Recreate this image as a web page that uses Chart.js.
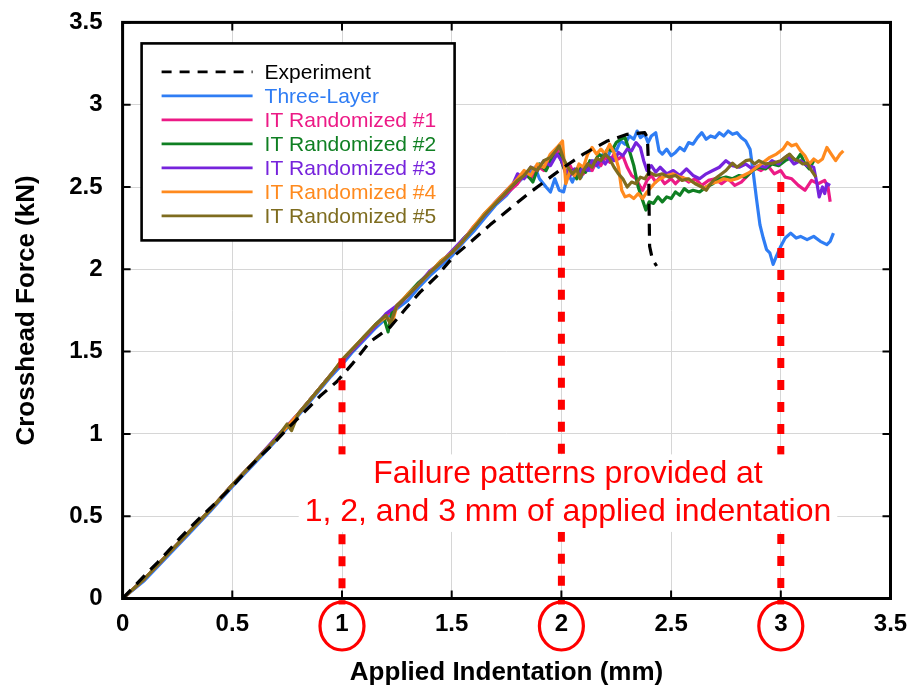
<!DOCTYPE html>
<html>
<head>
<meta charset="utf-8">
<script src="https://cdn.jsdelivr.net/npm/chart.js@4.4.1/dist/chart.umd.min.js"></script>
<style>
  html, body { margin: 0; padding: 0; background: #ffffff; }
  #wrap { width: 912px; height: 690px; }
</style>
</head>
<body>
<div id="wrap"><canvas id="chart" width="912" height="690"></canvas></div>
<script>
// Crosshead force (kN) against applied indentation (mm)

const seriesNames = ['Experiment', 'Three-Layer', 'IT Randomized #1', 'IT Randomized #2',
                     'IT Randomized #3', 'IT Randomized #4', 'IT Randomized #5'];
const seriesColors = ['#000000', '#2F7DF4', '#EC1A86', '#0F7F22', '#7623DC', '#FF8A1E', '#7E6C1F'];

const xTickValues = [0, 0.5, 1, 1.5, 2, 2.5, 3, 3.5];
const xTickLabels = ['0', '0.5', '1', '1.5', '2', '2.5', '3', '3.5'];
const yTickValues = [0, 0.5, 1, 1.5, 2, 2.5, 3, 3.5];
const yTickLabels = ['0', '0.5', '1', '1.5', '2', '2.5', '3', '3.5'];

// indentations at which failure patterns are shown, and the force where each guide stops
const markIndent = [1, 2, 3];
const markForce = [1.46, 2.41, 2.53];
const noteLines = ['Failure patterns provided at', '1, 2, and 3 mm of applied indentation'];

const experiment = [[0,0],[0.05,0.07],[0.103,0.143],[0.16,0.22],[0.216,0.30],[0.26,0.365],[0.307,0.43],
  [0.36,0.50],[0.4,0.55],[0.45,0.615],[0.5,0.68],[0.573,0.79],[0.62,0.855],[0.68,0.93],[0.75,1.03],
  [0.83,1.135],[0.9,1.23],[0.976,1.317],[1.05,1.43],[1.128,1.56],[1.17,1.60],[1.22,1.65],[1.29,1.76],
  [1.355,1.86],[1.43,1.955],[1.51,2.08],[1.59,2.17],[1.675,2.27],[1.766,2.37],[1.85,2.46],[1.93,2.54],
  [2.0,2.61],[2.1,2.70],[2.21,2.78],[2.30,2.82],[2.38,2.83],[2.392,2.80],[2.398,2.60],[2.40,2.34],
  [2.402,2.14],[2.415,2.06],[2.434,2.02]];

const threeLayer = [[0,0],[0.1,0.11],[0.2,0.25],[0.3,0.39],[0.4,0.53],[0.5,0.68],[0.6,0.82],[0.7,0.96],
  [0.8,1.11],[0.9,1.27],[0.95,1.35],[1.0,1.42],[1.05,1.50],[1.1,1.57],[1.15,1.64],[1.2,1.70],[1.25,1.76],
  [1.3,1.81],[1.35,1.89],[1.4,1.96],[1.45,2.02],[1.5,2.08],[1.55,2.16],[1.6,2.23],[1.65,2.31],[1.7,2.39],
  [1.75,2.45],[1.78,2.50],[1.82,2.55],[1.85,2.57],[1.88,2.62],[1.9,2.55],[1.93,2.50],[1.95,2.47],
  [1.97,2.55],[1.99,2.48],[2.01,2.47],[2.03,2.58],[2.05,2.53],[2.07,2.60],[2.09,2.56],[2.11,2.62],
  [2.13,2.60],[2.15,2.66],[2.17,2.62],[2.19,2.70],[2.21,2.68],[2.23,2.74],[2.25,2.72],[2.27,2.78],
  [2.29,2.76],[2.31,2.81],[2.33,2.79],[2.345,2.84],[2.36,2.80],[2.38,2.82],[2.395,2.77],[2.41,2.81],
  [2.43,2.83],[2.445,2.72],[2.46,2.70],[2.48,2.73],[2.5,2.69],[2.52,2.71],[2.54,2.74],[2.56,2.72],
  [2.58,2.77],[2.6,2.76],[2.62,2.80],[2.64,2.83],[2.66,2.79],[2.68,2.81],[2.7,2.80],[2.72,2.83],
  [2.74,2.81],[2.76,2.84],[2.78,2.82],[2.8,2.83],[2.82,2.80],[2.84,2.78],[2.86,2.73],[2.875,2.58],
  [2.89,2.42],[2.905,2.27],[2.92,2.19],[2.935,2.12],[2.95,2.10],[2.965,2.03],[2.98,2.08],[3.0,2.14],
  [3.02,2.19],[3.045,2.22],[3.07,2.19],[3.09,2.20],[3.12,2.18],[3.15,2.20],[3.18,2.17],[3.21,2.15],
  [3.225,2.17],[3.24,2.22]];

const itRandom1 = [[0,0],[0.1,0.12],[0.2,0.26],[0.3,0.40],[0.4,0.54],[0.5,0.69],[0.6,0.83],[0.7,0.97],
  [0.8,1.12],[0.9,1.28],[0.95,1.36],[1.0,1.44],[1.05,1.51],[1.1,1.58],[1.15,1.66],[1.2,1.72],[1.25,1.77],
  [1.3,1.84],[1.35,1.91],[1.4,1.98],[1.45,2.04],[1.5,2.10],[1.55,2.17],[1.6,2.26],[1.65,2.33],[1.7,2.40],
  [1.75,2.46],[1.8,2.52],[1.83,2.58],[1.86,2.55],[1.89,2.63],[1.92,2.60],[1.95,2.67],[1.98,2.73],
  [2.0,2.66],[2.02,2.58],[2.04,2.63],[2.06,2.57],[2.08,2.61],[2.1,2.58],[2.12,2.64],[2.14,2.60],
  [2.16,2.66],[2.18,2.63],[2.2,2.68],[2.22,2.65],[2.24,2.70],[2.26,2.67],[2.28,2.69],[2.3,2.62],
  [2.32,2.57],[2.34,2.55],[2.36,2.50],[2.37,2.48],[2.39,2.54],[2.41,2.57],[2.43,2.53],[2.45,2.56],
  [2.47,2.52],[2.5,2.55],[2.52,2.52],[2.55,2.56],[2.58,2.53],[2.61,2.55],[2.64,2.51],[2.67,2.54],
  [2.7,2.55],[2.73,2.52],[2.76,2.55],[2.79,2.51],[2.82,2.53],[2.85,2.57],[2.88,2.62],[2.91,2.60],
  [2.94,2.63],[2.97,2.58],[3.0,2.60],[3.02,2.56],[3.05,2.55],[3.08,2.51],[3.11,2.48],[3.14,2.54],
  [3.17,2.52],[3.2,2.54],[3.215,2.50],[3.225,2.41]];

const itRandom2 = [[0,0],[0.1,0.12],[0.2,0.26],[0.3,0.40],[0.4,0.54],[0.5,0.69],[0.6,0.83],[0.7,0.97],
  [0.8,1.12],[0.9,1.28],[0.95,1.36],[1.0,1.44],[1.05,1.51],[1.1,1.59],[1.15,1.66],[1.19,1.71],[1.21,1.62],
  [1.23,1.75],[1.27,1.80],[1.3,1.85],[1.35,1.92],[1.4,1.98],[1.45,2.05],[1.5,2.10],[1.55,2.18],[1.6,2.25],
  [1.65,2.34],[1.7,2.40],[1.75,2.47],[1.8,2.54],[1.84,2.58],[1.87,2.53],[1.9,2.64],[1.93,2.60],
  [1.96,2.68],[1.99,2.70],[2.01,2.62],[2.03,2.57],[2.05,2.60],[2.07,2.55],[2.09,2.62],[2.11,2.59],
  [2.13,2.66],[2.15,2.64],[2.17,2.70],[2.19,2.68],[2.21,2.73],[2.23,2.72],[2.25,2.77],[2.27,2.79],
  [2.29,2.80],[2.31,2.72],[2.33,2.63],[2.35,2.50],[2.37,2.42],[2.385,2.36],[2.40,2.41],[2.42,2.40],
  [2.44,2.44],[2.46,2.41],[2.48,2.44],[2.5,2.43],[2.52,2.47],[2.54,2.45],[2.56,2.49],[2.58,2.47],
  [2.6,2.48],[2.63,2.47],[2.66,2.50],[2.69,2.52],[2.72,2.55],[2.75,2.56],[2.78,2.55],[2.81,2.57],
  [2.84,2.56],[2.87,2.60],[2.9,2.62],[2.93,2.61],[2.96,2.64],[2.99,2.63],[3.02,2.66],[3.05,2.68],
  [3.07,2.66],[3.09,2.70],[3.11,2.64],[3.13,2.61],[3.15,2.66]];

const itRandom3 = [[0,0],[0.1,0.12],[0.2,0.26],[0.3,0.40],[0.4,0.54],[0.5,0.69],[0.6,0.83],[0.7,0.98],
  [0.8,1.12],[0.9,1.28],[0.95,1.36],[1.0,1.44],[1.05,1.51],[1.1,1.58],[1.15,1.65],[1.2,1.73],[1.25,1.78],
  [1.3,1.84],[1.35,1.91],[1.4,1.99],[1.45,2.04],[1.5,2.11],[1.55,2.18],[1.6,2.25],[1.65,2.33],[1.7,2.41],
  [1.75,2.48],[1.78,2.52],[1.8,2.58],[1.83,2.55],[1.86,2.62],[1.89,2.60],[1.92,2.66],[1.95,2.63],
  [1.98,2.70],[2.0,2.66],[2.02,2.60],[2.04,2.57],[2.06,2.61],[2.08,2.58],[2.1,2.62],[2.12,2.60],
  [2.14,2.66],[2.16,2.63],[2.18,2.67],[2.2,2.64],[2.22,2.68],[2.24,2.66],[2.26,2.71],[2.28,2.69],
  [2.3,2.73],[2.32,2.72],[2.34,2.77],[2.36,2.74],[2.375,2.66],[2.39,2.60],[2.41,2.63],[2.43,2.59],
  [2.45,2.62],[2.48,2.58],[2.51,2.60],[2.54,2.57],[2.57,2.61],[2.6,2.57],[2.63,2.55],[2.66,2.58],
  [2.69,2.60],[2.72,2.62],[2.75,2.66],[2.78,2.63],[2.81,2.62],[2.84,2.64],[2.87,2.61],[2.9,2.63],
  [2.93,2.62],[2.96,2.66],[2.99,2.64],[3.01,2.67],[3.03,2.69],[3.06,2.64],[3.09,2.66],[3.12,2.63],
  [3.15,2.62],[3.165,2.52],[3.175,2.44],[3.19,2.50],[3.2,2.46],[3.21,2.52],[3.225,2.51]];

const itRandom4 = [[0,0],[0.1,0.12],[0.2,0.26],[0.3,0.40],[0.4,0.54],[0.5,0.69],[0.6,0.83],[0.7,0.97],
  [0.8,1.12],[0.9,1.28],[0.95,1.36],[1.0,1.45],[1.05,1.52],[1.1,1.59],[1.15,1.66],[1.2,1.71],[1.23,1.68],
  [1.25,1.78],[1.3,1.85],[1.35,1.91],[1.4,1.98],[1.45,2.05],[1.5,2.10],[1.55,2.17],[1.6,2.26],[1.65,2.34],
  [1.7,2.41],[1.75,2.48],[1.8,2.55],[1.83,2.60],[1.86,2.57],[1.89,2.64],[1.92,2.62],[1.95,2.70],
  [1.98,2.74],[2.005,2.78],[2.02,2.52],[2.04,2.60],[2.06,2.57],[2.08,2.64],[2.1,2.62],[2.12,2.70],
  [2.14,2.74],[2.16,2.70],[2.18,2.73],[2.2,2.70],[2.22,2.76],[2.24,2.71],[2.26,2.62],[2.275,2.48],
  [2.29,2.44],[2.31,2.45],[2.33,2.43],[2.35,2.46],[2.37,2.43],[2.39,2.47],[2.41,2.50],[2.43,2.53],
  [2.45,2.55],[2.48,2.57],[2.51,2.58],[2.54,2.56],[2.57,2.55],[2.6,2.53],[2.63,2.51],[2.65,2.49],
  [2.68,2.52],[2.71,2.53],[2.74,2.55],[2.77,2.54],[2.8,2.55],[2.83,2.57],[2.86,2.59],[2.89,2.62],
  [2.92,2.65],[2.95,2.68],[2.98,2.70],[3.01,2.73],[3.03,2.77],[3.05,2.75],[3.07,2.76],[3.09,2.72],
  [3.11,2.69],[3.13,2.64],[3.15,2.67],[3.17,2.65],[3.19,2.67],[3.21,2.74],[3.23,2.70],[3.25,2.66],
  [3.27,2.70],[3.285,2.72]];

const itRandom5 = [[0,0],[0.1,0.12],[0.2,0.26],[0.3,0.40],[0.4,0.54],[0.5,0.69],[0.6,0.83],[0.7,0.97],
  [0.75,1.06],[0.77,1.02],[0.8,1.12],[0.9,1.28],[0.95,1.36],[1.0,1.45],[1.05,1.52],[1.1,1.59],[1.15,1.66],
  [1.2,1.72],[1.22,1.67],[1.25,1.78],[1.3,1.84],[1.35,1.91],[1.4,1.98],[1.45,2.04],[1.5,2.10],[1.55,2.17],
  [1.6,2.25],[1.65,2.33],[1.7,2.40],[1.75,2.47],[1.8,2.54],[1.83,2.57],[1.86,2.62],[1.89,2.60],
  [1.92,2.66],[1.95,2.68],[1.975,2.72],[1.99,2.75],[2.01,2.67],[2.03,2.62],[2.05,2.58],[2.07,2.61],
  [2.085,2.55],[2.1,2.60],[2.12,2.64],[2.14,2.62],[2.16,2.675],[2.18,2.66],[2.2,2.70],[2.22,2.67],
  [2.24,2.62],[2.26,2.58],[2.28,2.55],[2.3,2.50],[2.32,2.53],[2.34,2.52],[2.36,2.56],[2.38,2.55],
  [2.4,2.59],[2.43,2.57],[2.46,2.58],[2.49,2.56],[2.52,2.57],[2.55,2.54],[2.58,2.55],[2.61,2.52],
  [2.64,2.50],[2.66,2.48],[2.68,2.52],[2.7,2.55],[2.72,2.57],[2.75,2.60],[2.78,2.645],[2.8,2.62],
  [2.82,2.64],[2.84,2.66],[2.86,2.665],[2.88,2.64],[2.9,2.66],[2.93,2.64],[2.965,2.645],[3.0,2.66],
  [3.02,2.68],[3.04,2.70],[3.06,2.67],[3.08,2.66],[3.1,2.64],[3.12,2.645],[3.14,2.60],[3.16,2.56]];

const seriesPoints = [experiment, threeLayer, itRandom1, itRandom2, itRandom3, itRandom4, itRandom5];
// later series sit on top of earlier ones; the measured curve is drawn last
const stackOrder = [0, 6, 5, 4, 3, 2, 1];

const FONT = "'Liberation Sans', Arial, Helvetica, sans-serif";

const datasets = seriesPoints.map((pts, i) => ({
  label: seriesNames[i],
  data: pts.map(p => ({ x: p[0], y: p[1] })),
  showLine: true,
  borderColor: seriesColors[i],
  backgroundColor: seriesColors[i],
  borderWidth: i === 0 ? 3.2 : 3.2,
  borderDash: i === 0 ? [12, 8] : [],
  borderJoinStyle: 'round',
  pointRadius: 0,
  pointHoverRadius: 0,
  tension: 0,
  order: stackOrder[i]
}));

// Guides, note, frame, ticks and the boxed key
const decorations = {
  id: 'decorations',
  afterDatasetsDraw(chart, args, opts) {
    const { ctx, chartArea: a, scales: { x, y } } = chart;
    ctx.save();

    // red dotted guides rising from the marked indentations
    ctx.strokeStyle = opts.red;
    ctx.lineWidth = 7;
    ctx.lineCap = 'butt';
    ctx.setLineDash([10, 12]);
    markIndent.forEach((v, i) => {
      const px = x.getPixelForValue(v);
      ctx.beginPath();
      ctx.moveTo(px, y.getPixelForValue(markForce[i]));
      ctx.lineTo(px, a.bottom + 6);
      ctx.stroke();
    });
    ctx.setLineDash([]);

    // note text on a white panel
    ctx.font = `${opts.noteSize}px ${FONT}`;
    const cx = x.getPixelForValue(opts.noteX);
    const rows = noteLines.map((t, i) => y.getPixelForValue(opts.noteY[i]));
    const wMax = Math.max(...noteLines.map(t => ctx.measureText(t).width));
    const top = rows[0] - opts.noteSize * 0.62;
    const bottom = rows[rows.length - 1] + opts.noteSize * 0.62;
    ctx.fillStyle = '#ffffff';
    ctx.fillRect(cx - wMax / 2 - 6, top, wMax + 12, bottom - top);
    ctx.fillStyle = opts.red;
    ctx.textAlign = 'center';
    ctx.textBaseline = 'middle';
    noteLines.forEach((t, i) => ctx.fillText(t, cx, rows[i]));

    // plot frame
    ctx.strokeStyle = '#000000';
    ctx.lineWidth = 3;
    ctx.strokeRect(a.left, a.top, a.right - a.left, a.bottom - a.top);

    // inward tick marks on all four sides
    ctx.lineWidth = 2;
    const tl = 8;
    ctx.beginPath();
    xTickValues.forEach(v => {
      const px = x.getPixelForValue(v);
      ctx.moveTo(px, a.bottom); ctx.lineTo(px, a.bottom - tl);
      ctx.moveTo(px, a.top); ctx.lineTo(px, a.top + tl);
    });
    yTickValues.forEach(v => {
      const py = y.getPixelForValue(v);
      ctx.moveTo(a.left, py); ctx.lineTo(a.left + tl, py);
      ctx.moveTo(a.right, py); ctx.lineTo(a.right - tl, py);
    });
    ctx.stroke();

    // rings round the marked tick labels
    ctx.strokeStyle = opts.red;
    ctx.lineWidth = 3.2;
    markIndent.forEach(v => {
      const px = x.getPixelForValue(v);
      ctx.beginPath();
      ctx.ellipse(px, a.bottom + opts.ringOffset, opts.ringRx, opts.ringRy, 0, 0, Math.PI * 2);
      ctx.stroke();
    });

    // boxed key in the upper left of the plot
    const k = opts.key;
    const kx = a.left + k.dx, ky = a.top + k.dy;
    ctx.fillStyle = '#ffffff';
    ctx.fillRect(kx, ky, k.w, k.h);
    ctx.strokeStyle = '#000000';
    ctx.lineWidth = 2.6;
    ctx.strokeRect(kx, ky, k.w, k.h);
    ctx.font = `${k.size}px ${FONT}`;
    ctx.textAlign = 'left';
    ctx.textBaseline = 'middle';
    seriesNames.forEach((name, i) => {
      const ry = ky + k.first + i * k.row;
      ctx.strokeStyle = seriesColors[i];
      ctx.lineWidth = 2.8;
      ctx.setLineDash(i === 0 ? [10, 8] : []);
      ctx.beginPath();
      ctx.moveTo(kx + k.lineFrom, ry);
      ctx.lineTo(kx + k.lineTo, ry);
      ctx.stroke();
      ctx.setLineDash([]);
      ctx.fillStyle = seriesColors[i];
      ctx.fillText(name, kx + k.textX, ry + 1);
    });

    ctx.restore();
  }
};

new Chart(document.getElementById('chart'), {
  type: 'scatter',
  data: { datasets },
  options: {
    responsive: false,
    animation: false,
    devicePixelRatio: 1,
    layout: { padding: { top: 22.4, right: 21.5, left: 0, bottom: 0 } },
    plugins: {
      legend: { display: false },
      tooltip: { enabled: false },
      decorations: {
        red: '#FF0000',
        noteX: 2.03,
        noteY: [0.755, 0.525],
        noteSize: 32,
        ringOffset: 27.5,
        ringRx: 22,
        ringRy: 24,
        key: { dx: 19, dy: 21, w: 313, h: 197, first: 28.5, row: 24, lineFrom: 20, lineTo: 111, textX: 123, size: 21 }
      }
    },
    scales: {
      x: {
        type: 'linear',
        min: 0,
        max: 3.5,
        afterBuildTicks: s => { s.ticks = xTickValues.map(v => ({ value: v })); },
        afterFit: s => { s.height = 91.5; s.paddingLeft = 0; s.paddingRight = 0; },
        grid: { color: '#d6d6d6', lineWidth: 1, drawTicks: false },
        border: { display: false },
        ticks: {
          padding: 11,
          color: '#000000',
          font: { family: FONT, size: 24, weight: 'bold' },
          callback: (v, i) => xTickLabels[i],
          maxRotation: 0
        },
        title: {
          display: true,
          text: 'Applied Indentation (mm)',
          color: '#000000',
          font: { family: FONT, size: 26, weight: 'bold' },
          padding: { top: 0, bottom: 1.5 }
        }
      },
      y: {
        type: 'linear',
        min: 0,
        max: 3.5,
        afterBuildTicks: s => { s.ticks = yTickValues.map(v => ({ value: v })); },
        afterFit: s => { s.width = 122.6; s.paddingTop = 0; s.paddingBottom = 0; },
        grid: { color: '#d6d6d6', lineWidth: 1, drawTicks: false },
        border: { display: false },
        ticks: {
          padding: 20,
          color: '#000000',
          font: { family: FONT, size: 24, weight: 'bold' },
          callback: (v, i) => yTickLabels[i]
        },
        title: {
          display: true,
          text: 'Crosshead Force (kN)',
          color: '#000000',
          font: { family: FONT, size: 26, weight: 'bold' },
          padding: { top: 11.5, bottom: 0 }
        }
      }
    }
  },
  plugins: [decorations]
});
</script>
</body>
</html>
